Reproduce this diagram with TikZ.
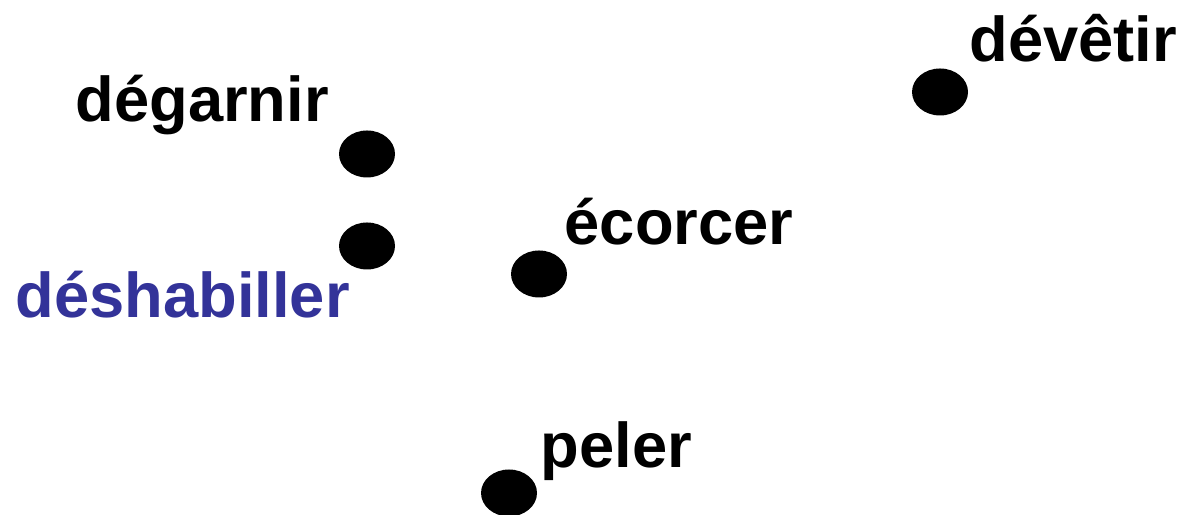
\documentclass[tikz,border=0pt]{standalone}
\usepackage{fontspec}
\setmainfont{Liberation Sans}
\definecolor{verbblue}{RGB}{51, 51, 153}
\usetikzlibrary{shapes.geometric, positioning}
\begin{document}
\begin{tikzpicture}[
    point/.style={ellipse, fill=black, inner sep=0pt,
                  minimum width=0.56cm, minimum height=0.47cm},
    word/.style={anchor=base west, inner sep=0pt, text=#1,
                 font=\fontsize{18}{20}\selectfont\bfseries},
    word/.default=black
]
    \useasboundingbox (0,0) rectangle (11.79,5.15);

    % points
    \node[point] (degarnir) at (3.67,3.61) {};
    \node[point] (deshabiller) at (3.67,2.69) {};
    \node[point] (ecorcer) at (5.39,2.41) {};
    \node[point] (devetir) at (9.40,4.23) {};
    \node[point] (peler) at (5.09,0.22) {};

    % labels
    \node[word] (degarnirlabel) at (0.75,3.93) {dégarnir};
    \node[word=verbblue] (deshabillerlabel) at (0.15,1.97) {déshabiller};
    \node[word] (ecorcerlabel) at (5.64,2.70) {écorcer};
    \node[word] (devetirlabel) at (9.69,4.53) {dévêtir};
    \node[word] (pelerlabel) at (5.40,0.47) {peler};
\end{tikzpicture}
\end{document}
